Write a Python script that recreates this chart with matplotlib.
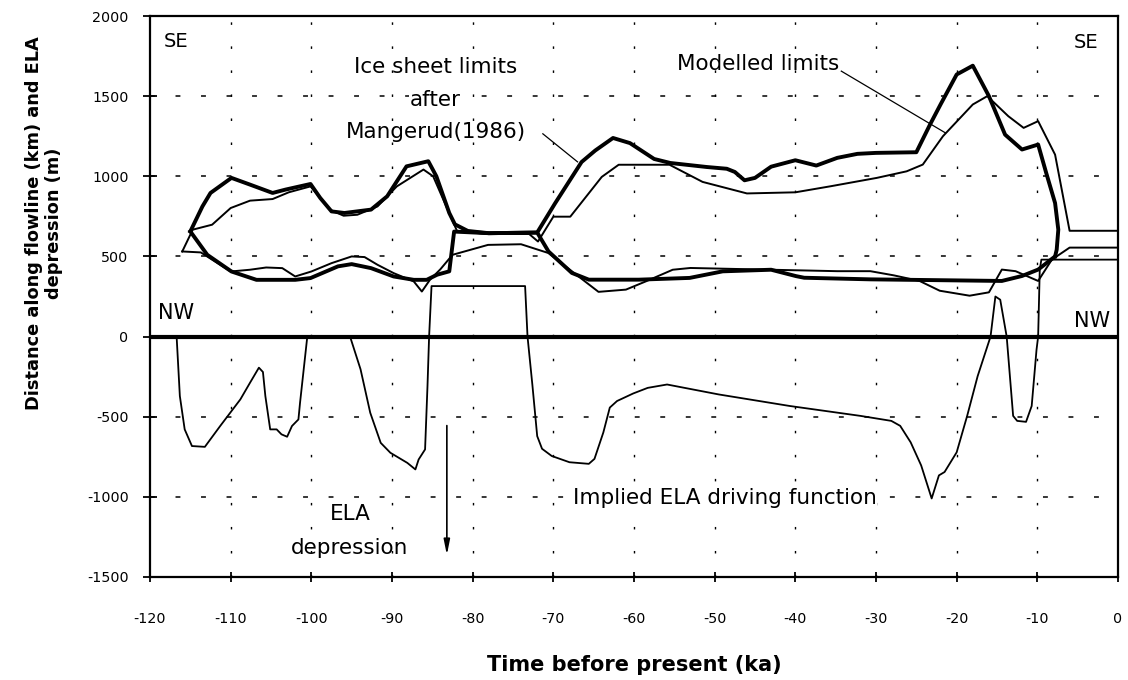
import matplotlib
matplotlib.use("Agg")
import matplotlib.pyplot as plt

plt.rcParams['font.family'] = ['DejaVu Sans']

# Observed ice-sheet limits (thick lines): SE-side outer limit and inner limit
obs_upper_t = [-115, -113.5, -112.5, -109.9, -107.6, -104.8, -103.2, -100.1, -98.9, -97.5,
               -95.9, -92.6, -90.6, -88.2, -85.5, -84.5, -82.9, -82.2, -80.6, -78, -72,
               -69.8, -66.5, -64.8, -62.6, -60.5, -57.5, -55.5, -51, -48.5, -47.5, -46.3,
               -45, -43, -40, -37.4, -34.8, -32.3, -30, -25, -23.3, -22, -20, -18, -16,
               -14, -11.9, -9.9, -8.9, -7.8, -7.4, -7.6, -7.8]
obs_upper = [656, 812, 896, 990, 948, 896, 917, 952, 865, 781,
             771, 792, 875, 1062, 1094, 1000, 771, 700, 659, 645, 649,
             830, 1089, 1161, 1239, 1207, 1108, 1083, 1058, 1047, 1027, 975,
             990, 1060, 1100, 1067, 1115, 1140, 1146, 1150, 1323, 1448, 1635, 1690, 1500,
             1260, 1167, 1198, 1021, 833, 667, 542, 500]

obs_lower_t = [-115, -112.9, -109.9, -106.8, -102, -100.1, -96.7, -95, -92.6, -89.8,
               -87.3, -85.7, -84.4, -82.9, -82.3, -78, -72, -70.6, -67.7, -65.6, -59.4,
               -53.1, -49, -43, -39.9, -38.9, -30.7, -14.4, -11.9, -9.9, -7.8]
obs_lower = [656, 510, 406, 354, 354, 365, 438, 452, 427, 375,
             354, 354, 386, 407, 655, 645, 649, 531, 397, 355, 355,
             366, 407, 417, 377, 367, 357, 347, 378, 418, 500]

# Modelled limits (thin lines)
mod_upper_t = [-116, -114.7, -112.3, -110, -107.6, -104.8, -102.8, -100.1, -97.7, -96,
               -94.3, -91.8, -89.4, -86.1, -84.9, -82.1, -81.9, -78, -73, -71.9, -70,
               -67.9, -64, -61.9, -55.6, -51.5, -46, -40, -35.6, -29.9, -26.2, -24.2,
               -21.7, -18, -16.2, -13.6, -11.7, -9.9, -7.8, -6, 0]
mod_upper = [531, 667, 698, 802, 848, 858, 900, 937, 792, 754,
             760, 812, 937, 1042, 1000, 677, 655, 640, 640, 593, 748,
             748, 996, 1072, 1072, 965, 893, 900, 938, 990, 1031, 1073,
             1250, 1448, 1500, 1375, 1302, 1344, 1135, 660, 660]

mod_lower_t = [-116, -113.7, -110, -107.6, -105.6, -103.6, -102, -100, -97.5, -95,
               -93.4, -91.8, -89.8, -87.3, -86.3, -85.3, -84, -82.5, -78.1, -74, -70.6,
               -68.5, -64.4, -61, -58.5, -55.2, -53, -43, -34.8, -30.7, -27.8, -24.6,
               -22.1, -18.4, -16, -14.4, -12.7, -9.9, -8.2, -6, 0]
mod_lower = [531, 525, 406, 417, 431, 427, 375, 406, 458, 500,
             496, 448, 396, 344, 281, 354, 420, 510, 572, 576, 521,
             438, 279, 293, 345, 417, 428, 417, 408, 408, 382, 347,
             286, 255, 276, 418, 408, 347, 480, 555, 555]

# Implied ELA driving function (m)
ela_t = [-116.7, -116.3, -115.7, -114.8, -113.2, -111.3, -108.8, -107.6, -106.5, -106,
         -105.7, -105.1, -104.3, -103.7, -103, -102.4, -101.6, -101.4, -100.5, -95.2,
         -93.9, -92.7, -91.4, -90.2, -88.1, -87.1, -86.7, -85.9, -85.6, -85.4, -85.1,
         -73.5, -73.2, -72.6, -72, -71.4, -70.2, -68, -65.6, -64.9, -63.8, -63, -62.1,
         -60.1, -58.3, -55.9, -49.5, -40.7, -31.9, -28.1, -27, -25.7, -24.4, -23.1,
         -22.2, -21.5, -20, -18.7, -17.4, -15.8, -15.2, -14.6, -13.8, -13, -12.5,
         -11.4, -10.7, -10.1, -9.9, -9.7, -9.5, 0]
ela = [0, -371, -579, -683, -688, -558, -392, -288, -194, -221,
       -371, -579, -579, -610, -625, -558, -517, -413, 0, 0,
       -204, -475, -663, -725, -788, -829, -767, -704, -308, 0, 315,
       315, 0, -300, -621, -700, -745, -784, -794, -763, -598, -443, -402,
       -355, -320, -299, -361, -433, -495, -526, -557, -660, -804, -1010,
       -866, -845, -722, -495, -247, 0, 250, 230, 0, -495, -526,
       -532, -433, -82, 0, 418, 480, 480]

x_ticks = [-120, -110, -100, -90, -80, -70, -60, -50, -40, -30, -20, -10, 0]
y_ticks = [2000, 1500, 1000, 500, 0, -500, -1000, -1500]

fig = plt.figure(figsize=(11.28, 6.8), dpi=100)
ax = fig.add_axes([150 / 1128, 1 - 577 / 680, (1118 - 150) / 1128, (577 - 16) / 680])
ax.set_xlim(-120, 0)
ax.set_ylim(-1500, 2000)

# sparse dashed/dotted grid
for yv in y_ticks:
    if yv not in (0, 2000, -1500):
        ax.axhline(yv, color='black', lw=1.1, ls=(0, (3.2, 13.5)), zorder=1)
for xv in x_ticks[1:-1]:
    ax.axvline(xv, color='black', lw=1.0, ls=(0, (1.8, 15.5)), zorder=1)

# NW reference line
ax.axhline(0, color='black', lw=3.0, zorder=3)

ax.plot(ela_t, ela, color='black', lw=1.3, zorder=4)
ax.plot(mod_upper_t, mod_upper, color='black', lw=1.4, zorder=4)
ax.plot(mod_lower_t, mod_lower, color='black', lw=1.4, zorder=4)
ax.plot(obs_upper_t, obs_upper, color='black', lw=2.8, zorder=5, solid_joinstyle='round')
ax.plot(obs_lower_t, obs_lower, color='black', lw=2.8, zorder=5, solid_joinstyle='round')

ax.set_xticks(x_ticks)
ax.set_xticklabels([str(v) for v in x_ticks])
ax.set_yticks(y_ticks)
ax.set_yticklabels([str(v) for v in y_ticks])
ax.tick_params(axis='both', direction='inout', width=1.3, labelsize=10.3)
ax.tick_params(axis='x', length=7, pad=21.5)
ax.tick_params(axis='y', length=9.5, pad=10.7)
for side in ['top', 'right', 'left', 'bottom']:
    ax.spines[side].set_linewidth(1.6)

txt = dict(color='black', fontsize=15.5, zorder=6)
ax.text(-118.3, 1840, 'SE', ha='left', va='center', color='black', fontsize=14, zorder=6)
ax.text(-2.4, 1833, 'SE', ha='right', va='center', color='black', fontsize=14, zorder=6)
ax.text(-119.0, 146, 'NW', ha='left', va='center', color='black', fontsize=15, zorder=6)
ax.text(-1.0, 98, 'NW', ha='right', va='center', color='black', fontsize=15, zorder=6)

ax.text(-84.6, 1683, 'Ice sheet limits', ha='center', va='center', **txt)
ax.text(-84.6, 1475, 'after', ha='center', va='center',
        bbox=dict(facecolor='white', edgecolor='none', pad=0.5), **txt)
ax.text(-84.6, 1277, 'Mangerud(1986)', ha='center', va='center', **txt)
ax.plot([-71.3, -67.0], [1265, 1090], color='black', lw=0.9, zorder=6)

ax.text(-34.5, 1698, 'Modelled limits', ha='right', va='center', **txt)
ax.plot([-34.3, -21.4], [1656, 1271], color='black', lw=0.9, zorder=6)

ax.text(-95.2, -1110, 'ELA', ha='center', va='center', **txt)
ax.text(-95.2, -1319, 'depression', ha='center', va='center', **txt)
ax.annotate('', xy=(-83.2, -1380), xytext=(-83.2, -538),
            arrowprops=dict(arrowstyle='-|>,head_length=0.9,head_width=0.18',
                            color='black', lw=1.2), zorder=6)

ax.text(-67.6, -1010, 'Implied ELA driving function', ha='left', va='center',
        bbox=dict(facecolor='white', edgecolor='none', pad=0.5), **txt)

ax.set_xlabel('Time before present (ka)', fontsize=15, fontweight='bold', labelpad=21)
fig.text(44 / 1128, 1 - 223 / 680, 'Distance along flowline (km) and ELA\ndepression (m)',
         rotation=90, ha='center', va='center', multialignment='center',
         fontsize=12.8, fontweight='bold', linespacing=1.2)

fig.savefig('out.png', dpi=100)
